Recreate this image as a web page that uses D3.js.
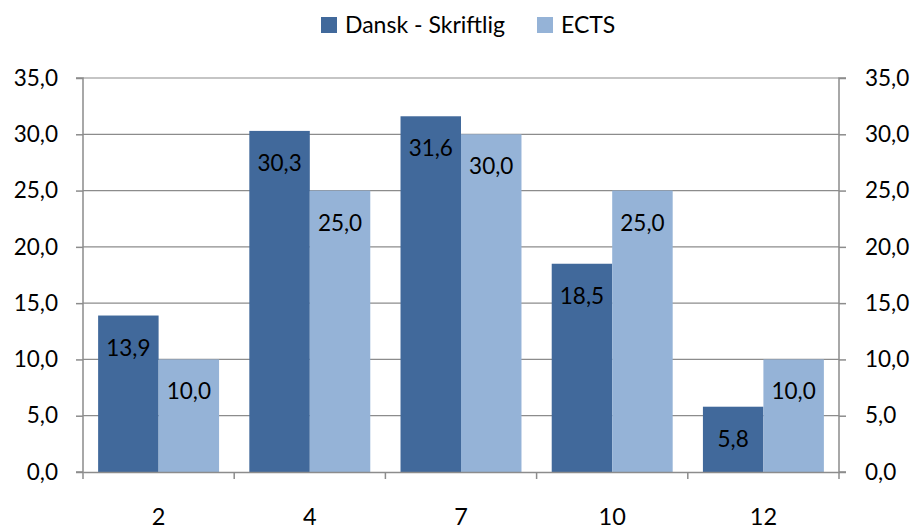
<!DOCTYPE html>
<html><head><meta charset="utf-8">
<script src="https://cdn.jsdelivr.net/npm/d3@7/dist/d3.min.js"></script>
<style>body{margin:0;background:#fff}svg{display:block}text{font-family:Lato,"Open Sans",sans-serif;fill:#000}</style>
</head><body>
<script>
const categories = ["2","4","7","10","12"];
const seriesNames = ["Dansk - Skriftlig","ECTS"];
const dansk = [13.9,30.3,31.6,18.5,5.8];
const ects = [10.0,25.0,30.0,25.0,10.0];
const yTicks = [0,5,10,15,20,25,30,35];
const colors = ["#41699b","#95b3d7"];

const W=916,H=529;
const FS=22.5;
const pLeft=83,pRight=839,pTop=78,pBottom=472;
const svg=d3.select("body").append("svg").attr("width",W).attr("height",H);
const fmt=v=>d3.format(".1f")(v).replace(".",",");
const x=d3.scaleBand().domain(categories).range([pLeft,pRight]).paddingInner(0).paddingOuter(0);
const sub=d3.scaleBand().domain([0,1]).range([x.bandwidth()*0.1,x.bandwidth()*0.9]);
const y=d3.scaleLinear().domain([0,35]).range([pBottom,pTop]);
const grid="#8c8c8c";

// gridlines
svg.append("g").selectAll("line").data(yTicks.filter(d=>d>0)).join("line")
  .attr("x1",pLeft).attr("x2",pRight).attr("y1",d=>y(d)).attr("y2",d=>y(d))
  .attr("stroke",grid).attr("stroke-width",1.2);

// bars
const series=[dansk,ects];
series.forEach((vals,si)=>{
  const g=svg.append("g");
  g.selectAll("rect").data(vals).join("rect")
    .attr("x",(d,i)=>x(categories[i])+sub(si)).attr("width",sub.bandwidth())
    .attr("y",d=>y(d)).attr("height",d=>y(0)-y(d)).attr("fill",colors[si]);
  g.selectAll("text").data(vals).join("text")
    .attr("x",(d,i)=>x(categories[i])+sub(si)+sub.bandwidth()/2)
    .attr("y",d=>y(d)+40).attr("text-anchor","middle").attr("font-size",FS)
    .text(d=>fmt(d));
});

// axes
const yl=d3.axisLeft(y).tickValues(yTicks).tickSize(7).tickPadding(18).tickFormat(fmt);
const yr=d3.axisRight(y).tickValues(yTicks).tickSize(7).tickPadding(19).tickFormat(fmt);
const gl=svg.append("g").attr("transform",`translate(${pLeft},0)`).call(yl);
const gr=svg.append("g").attr("transform",`translate(${pRight},0)`).call(yr);
const xa=d3.axisBottom(x).tickSize(0).tickPadding(0);
const gx=svg.append("g").attr("transform",`translate(0,${pBottom})`).call(xa);
// category boundary ticks
svg.append("g").selectAll("line").data(d3.range(categories.length+1)).join("line")
  .attr("x1",i=>pLeft+i*x.step()).attr("x2",i=>pLeft+i*x.step())
  .attr("y1",pBottom).attr("y2",pBottom+7).attr("stroke",grid).attr("stroke-width",1.5);
[gl,gr,gx].forEach(g=>{
  g.select(".domain").attr("stroke",grid).attr("stroke-width",1.5);
  g.selectAll(".tick line").attr("stroke",grid).attr("stroke-width",1.5);
  g.selectAll("text").attr("font-size",FS).attr("font-family","Lato,'Open Sans',sans-serif").attr("fill","#000");
});
gx.selectAll("text").attr("font-size",23.5).attr("dy",null).attr("y",53);
gl.select(".domain").attr("d",`M-7,${pTop}H0V${pBottom}H-7`);
gr.select(".domain").attr("d",`M7,${pTop}H0V${pBottom}H7`);

// legend
const leg=svg.append("g");
const items=[{x:321,t:seriesNames[0]},{x:537,t:seriesNames[1]}];
items.forEach((it,i)=>{
  leg.append("rect").attr("x",it.x).attr("y",17).attr("width",16).attr("height",16).attr("fill",colors[i]);
  leg.append("text").attr("x",it.x+24).attr("y",33).attr("font-size",23).text(it.t);
});
</script>
</body></html>
